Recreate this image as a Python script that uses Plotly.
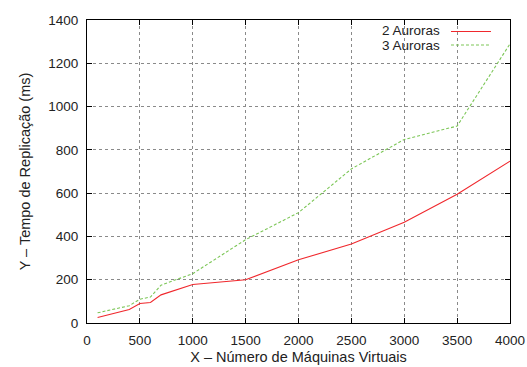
import plotly.graph_objects as go

vms = [100, 400, 500, 600, 700, 1000, 1500, 2000, 2500, 3000, 3500, 4000]
auroras2 = [25, 62, 90, 95, 130, 178, 200, 292, 365, 465, 595, 748]
auroras3 = [47, 80, 110, 120, 175, 228, 385, 510, 712, 848, 910, 1290]
series_names = ["2 Auroras", "3 Auroras"]
colors = ["#f0282d", "#7cc657"]

xticks = [0, 500, 1000, 1500, 2000, 2500, 3000, 3500, 4000]
yticks = [0, 200, 400, 600, 800, 1000, 1200, 1400]

FONT = "Liberation Sans, Arial, sans-serif"

fig = go.Figure()
fig.add_trace(go.Scatter(x=vms, y=auroras2, mode="lines", name=series_names[0],
                         line=dict(color=colors[0], width=1.1)))
fig.add_trace(go.Scatter(x=vms, y=auroras3, mode="lines", name=series_names[1],
                         line=dict(color=colors[1], width=1.1, dash="3px,2px")))

axis_common = dict(
    showline=True, linecolor="black", linewidth=1, mirror="allticks",
    ticks="inside", ticklen=5, tickcolor="black", ticklabelstandoff=5,
    showgrid=True, gridcolor="#8a8a8a", griddash="dot", gridwidth=1,
    zeroline=False, automargin=False,
    tickfont=dict(family=FONT, size=13.5, color="#222"),
)

fig.update_xaxes(range=[0, 4000], tickvals=xticks, ticktext=[str(t) for t in xticks],
                 title=dict(text="X – Número de Máquinas Virtuais",
                            font=dict(family=FONT, size=14.5, color="#222"), standoff=4),
                 **axis_common)
fig.update_yaxes(range=[0, 1400], tickvals=yticks, ticktext=[str(t) for t in yticks],
                 title=dict(text="Y – Tempo de Replicação (ms)",
                            font=dict(family=FONT, size=14.5, color="#222"), standoff=14),
                 **axis_common)

# gnuplot-style legend: text right-aligned, sample line on the right
legend_text_y = [0.9653, 0.9158]
legend_line_y = [0.962, 0.9175]
for name, col, ty, ly, dash in zip(series_names, colors, legend_text_y, legend_line_y,
                                   ["solid", "3px,2px"]):
    fig.add_annotation(x=0.839, y=ty, xref="paper", yref="paper", text=name,
                       showarrow=False, xanchor="right", yanchor="middle",
                       font=dict(family=FONT, size=13.5, color="#222"))
    fig.add_shape(type="line", xref="paper", yref="paper", x0=0.8605, x1=0.955,
                  y0=ly, y1=ly, line=dict(color=col, width=1.1, dash=dash))

fig.update_layout(
    width=527, height=367,
    margin=dict(l=87, r=17, t=20, b=44),
    paper_bgcolor="white", plot_bgcolor="white",
    showlegend=False,
)

fig.write_html("out.html", config={"displayModeBar": False},
               post_script="document.body.style.margin='0';")
